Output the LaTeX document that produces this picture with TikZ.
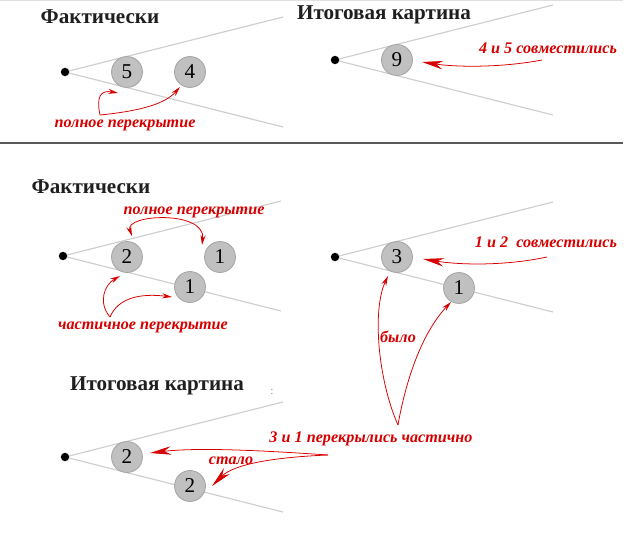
\documentclass[tikz,border=0pt]{standalone}
\usepackage{fontspec}
\setmainfont{Liberation Serif}
\usetikzlibrary{arrows.meta}
\definecolor{annot}{RGB}{215,0,0}
\definecolor{raygray}{RGB}{205,205,205}
\definecolor{ballfill}{RGB}{192,192,192}
\definecolor{ballrim}{RGB}{165,165,165}
\tikzset{
  ball/.style={circle, fill=ballfill, draw=ballrim, line width=0.6pt, minimum size=22pt, inner sep=0pt, font=\fontsize{15}{15}\selectfont},
  apex/.style={circle, fill=black, minimum size=6pt, inner sep=0pt},
  ray/.style={draw=raygray, line width=0.8pt},
  caption/.style={font=\fontsize{15}{15}\selectfont\bfseries, text=black!88},
  remark/.style={font=\fontsize{11.5}{11.5}\selectfont\bfseries\itshape, text=annot},
  note/.style={draw=annot, line width=0.55pt, -{Stealth[length=7pt,width=3.6pt]}},
  bignote/.style={draw=annot, line width=0.55pt, -{Stealth[length=15pt,width=6pt]}}
}
\newcommand{\fan}[3]{%
  \coordinate (#1c) at (#2,#3);
  \draw[ray] (#1c) -- ++(218,-55);
  \draw[ray] (#1c) -- ++(218,55);
  \node[apex] (#1) at (#1c) {};
}
\begin{document}
\begin{tikzpicture}[x=0.025cm,y=-0.025cm]
\useasboundingbox (0,0) rectangle (640,539);
\draw[draw=black!12, line width=0.8pt] (0,0.6) -- (623,0.6);
\draw[draw=black!65, line width=1.4pt] (0,143) -- (623,143);
% top left
\node[caption] (cap1) at (100,17) {Фактически};
\fan{o1}{65}{72}
\node[ball] (b5) at (127,72) {5};
\node[ball] (b4) at (190,72) {4};
\node[remark] (full1) at (125,125) {полное перекрытие};
\coordinate (s1) at (100,115);
\draw[note] (s1) .. controls (96,96) and (101,90) .. (118,93);
\draw[note] (s1) .. controls (140,111) and (165,104) .. (180,87);
% top right
\node[caption] (cap2) at (384,15) {Итоговая картина};
\fan{o2}{335}{60}
\node[ball] (b9) at (397,60) {9};
\node[remark, anchor=east] (join1) at (622,48) {4 и 5 совместились};
\coordinate (s2) at (542,60);
\draw[bignote] (s2) .. controls (500,68) and (455,67) .. (422,62);
% bottom left
\node[caption] (cap3) at (91,187) {Фактически};
\fan{o3}{63}{256}
\node[ball] (b2) at (127,257) {2};
\node[ball] (b1a) at (220,257) {1};
\node[ball] (b1b) at (190,287) {1};
\node[remark] (full2) at (194,212) {полное перекрытие};
\draw[note, {Stealth[length=7pt,width=3.6pt]}-{Stealth[length=7pt,width=3.6pt]}] (132,236) .. controls (124,214) and (206,210) .. (202,245);
\node[remark] (part1) at (143,327) {частичное перекрытие};
\coordinate (s3) at (110,317);
\draw[note] (s3) .. controls (98,303) and (104,285) .. (120,276);
\draw[note] (s3) .. controls (118,298) and (140,293) .. (172,297);
% bottom right
\fan{o4}{335}{257}
\node[ball] (b3) at (397,257) {3};
\node[ball] (b1c) at (459,288) {1};
\node[remark, anchor=east] (join2) at (622,242) {1 и 2\ \ совместились};
\coordinate (s4) at (547,257);
\draw[bignote] (s4) .. controls (505,266) and (460,265) .. (423,259);
\node[remark] (was) at (398,337) {было};
\coordinate (s5) at (398,425);
\draw[note] (s5) .. controls (378,380) and (372,310) .. (388,276);
\draw[note] (s5) .. controls (405,385) and (420,335) .. (451,302);
\node[remark] (part2) at (371,439) {3 и 1 перекрылись частично};
% final
\node[caption] (cap4) at (157,386) {Итоговая картина};
\node[text=black!45, font=\fontsize{8}{8}\selectfont] (dots) at (272,392) {:};
\fan{o5}{65}{457}
\node[ball] (b2a) at (127,457) {2};
\node[ball] (b2b) at (190,486) {2};
\coordinate (s6) at (328,455);
\draw[bignote] (s6) .. controls (270,451) and (200,447) .. (150,453);
\draw[bignote] (s6) .. controls (280,457) and (235,463) .. (212,486);
\node[remark] (became) at (231,461) {стало};
\end{tikzpicture}
\end{document}
